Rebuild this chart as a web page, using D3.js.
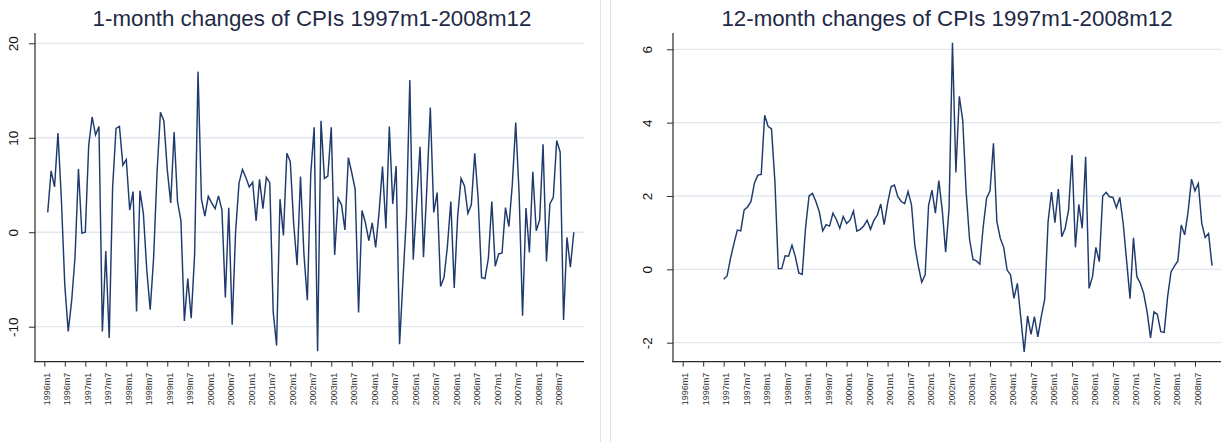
<!DOCTYPE html>
<html>
<head>
<meta charset="utf-8">
<script src="https://cdn.jsdelivr.net/npm/d3@7"></script>
<style>
  html, body { margin: 0; padding: 0; background: #ffffff; }
  svg { display: block; font-family: "Liberation Sans", Arial, sans-serif; }
</style>
</head>
<body>
<svg id="chart" width="1221" height="442"></svg>
<script>
// Monthly CPI changes. Months are counted from 1996m1 (index 0).
const oneMonthStart = 1;    // first observation: 1996m2
const twelveMonthStart = 12; // first observation: 1997m1

// 1-month changes, 1996m2 .. 2008m12
const oneMonthChanges = [
  2.1, 6.5, 4.8, 10.5, 3.5, -5.6, -10.5, -7.3, -2.6, 6.7, -0.1, 0.0,
  9.2, 12.2, 10.3, 11.2, -10.5, -2.0, -11.2, 4.75, 11.0, 11.2, 7.1, 7.7,
  2.35, 4.3, -8.4, 4.4, 2.0, -4.0, -8.2, -2.7, 6.3, 12.7, 11.8, 6.6,
  3.1, 10.6, 3.25, 1.2, -9.4, -4.9, -9.1, -2.4, 17.0, 3.5, 1.7, 3.8,
  3.1, 2.5, 3.85, 2.35, -6.9, 2.6, -9.8, 0.05, 5.2, 6.65, 5.8, 4.8,
  5.3, 1.2, 5.6, 2.5, 5.8, 5.25, -8.4, -12.0, 3.5, -0.35, 8.35, 7.5,
  0.9, -3.5, 5.9, -2.3, -7.2, 6.2, 11.1, -12.6, 11.8, 5.7, 5.95, 11.1,
  -2.4, 3.6, 2.9, 0.25, 7.9, 6.3, 4.55, -8.5, 2.3, 1.0, -0.9, 1.0,
  -1.6, 2.1, 6.95, 0.4, 11.2, 3.0, 7.0, -11.85, -5.0, 1.7, 16.1, -2.9,
  3.25, 9.05, -2.65, 4.8, 13.2, 2.1, 4.2, -5.75, -4.8, -1.5, 3.25, -5.9,
  1.65, 5.7, 4.9, 2.0, 2.9, 8.35, 3.6, -4.8, -4.9, -2.75, 3.25, -3.6,
  -2.3, -2.2, 2.6, 0.6, 5.05, 11.6, 4.05, -8.85, 2.55, -2.15, 6.4, 0.15,
  1.3, 9.3, -3.1, 3.0, 3.7, 9.7, 8.5, -9.3, -0.55, -3.7, 0.0
];

// 12-month changes, 1997m1 .. 2008m12
const twelveMonthChanges = [
  -0.27, -0.18, 0.3, 0.7, 1.07, 1.05, 1.62, 1.7, 1.85, 2.35, 2.57, 2.59,
  4.2, 3.9, 3.83, 2.4, 0.02, 0.02, 0.37, 0.36, 0.66, 0.34, -0.1, -0.14,
  1.16, 2.0, 2.07, 1.85, 1.57, 1.05, 1.22, 1.18, 1.53, 1.36, 1.12, 1.44,
  1.25, 1.34, 1.59, 1.04, 1.09, 1.18, 1.34, 1.09, 1.34, 1.48, 1.78, 1.22,
  1.8, 2.25, 2.3, 1.98, 1.85, 1.79, 2.12, 1.76, 0.63, 0.09, -0.35, -0.15,
  1.74, 2.16, 1.53, 2.42, 1.62, 0.47, 1.66, 6.18, 2.64, 4.72, 4.07, 2.12,
  0.82, 0.27, 0.23, 0.14, 1.16, 1.95, 2.14, 3.44, 1.3, 0.85, 0.6, -0.02,
  -0.15, -0.79, -0.38, -1.31, -2.25, -1.27, -1.77, -1.29, -1.84, -1.29, -0.82, 1.3,
  2.11, 1.27, 2.19, 0.89, 1.12, 1.62, 3.12, 0.6, 1.77, 1.12, 3.07, -0.52,
  -0.2, 0.6, 0.21, 2.0, 2.1, 1.98, 1.96, 1.68, 1.96, 1.25, 0.23, -0.8,
  0.86, -0.2, -0.38, -0.66, -1.16, -1.87, -1.16, -1.23, -1.7, -1.72, -0.75, -0.07,
  0.09, 0.23, 1.21, 0.94, 1.57, 2.46, 2.14, 2.34, 1.25, 0.87, 0.98, 0.1
];

// Time-axis ticks every six months
const xTickMonths = [0, 6, 12, 18, 24, 30, 36, 42, 48, 54, 60, 66, 72,
  78, 84, 90, 96, 102, 108, 114, 120, 126, 132, 138, 144, 150];
const xTickLabels = ["1996m1", "1996m7", "1997m1", "1997m7", "1998m1", "1998m7",
  "1999m1", "1999m7", "2000m1", "2000m7", "2001m1", "2001m7", "2002m1", "2002m7",
  "2003m1", "2003m7", "2004m1", "2004m7", "2005m1", "2005m7", "2006m1", "2006m7",
  "2007m1", "2007m7", "2008m1", "2008m7"];

const leftTitle = "1-month changes of CPIs 1997m1-2008m12";
const rightTitle = "12-month changes of CPIs 1997m1-2008m12";
const leftYTicks = [-10, 0, 10, 20];
const rightYTicks = [-2, 0, 2, 4, 6];

const svg = d3.select("#chart");

const LINE = "#1f3b6d";
const GRID = "#e1e6ef";
const AXIS = "#2b2b2b";

// panel frame edges between the two graphs
svg.append("line").attr("x1", 600.5).attr("x2", 600.5).attr("y1", 0).attr("y2", 442)
  .attr("stroke", "#dde3ee").attr("stroke-width", 1);
svg.append("line").attr("x1", 610.5).attr("x2", 610.5).attr("y1", 0).attr("y2", 442)
  .attr("stroke", "#dde3ee").attr("stroke-width", 1);

function drawPanel(cfg) {
  const g = svg.append("g");
  const x = d3.scaleLinear().domain([0, 155]).range(cfg.xRange);
  const y = d3.scaleLinear().domain(cfg.yDomain).range(cfg.yRange);

  // horizontal grid
  g.append("g").selectAll("line").data(cfg.yTicks).join("line")
    .attr("x1", cfg.left).attr("x2", cfg.right)
    .attr("y1", d => y(d)).attr("y2", d => y(d))
    .attr("stroke", GRID).attr("stroke-width", 1.3);

  // series
  const pts = cfg.values.map((v, i) => [cfg.start + i, v]);
  g.append("path").datum(pts)
    .attr("fill", "none").attr("stroke", LINE).attr("stroke-width", 1.45)
    .attr("stroke-linejoin", "miter")
    .attr("d", d3.line().x(d => x(d[0])).y(d => y(d[1])));

  // y axis (plain hyphen for negative labels)
  const yAxis = g.append("g").attr("transform", `translate(${cfg.left},0)`)
    .call(d3.axisLeft(y).tickValues(cfg.yTicks).tickFormat(d => String(d))
      .tickSize(6).tickSizeOuter(0));
  yAxis.select(".domain").remove();
  yAxis.selectAll(".tick line").attr("stroke", AXIS);
  yAxis.selectAll(".tick text")
    .attr("transform", "rotate(-90)")
    .attr("x", 0).attr("y", cfg.yLabelOffset).attr("dy", 0)
    .attr("text-anchor", "middle")
    .attr("font-size", 13.5).attr("fill", "#111111")
    .attr("font-family", "Liberation Sans, Arial, sans-serif");
  g.append("line").attr("x1", cfg.left).attr("x2", cfg.left)
    .attr("y1", cfg.top).attr("y2", cfg.bottom + 0.5)
    .attr("stroke", AXIS).attr("stroke-width", 1.2);

  // x axis
  const xAxis = g.append("g").attr("transform", `translate(0,${cfg.bottom})`)
    .call(d3.axisBottom(x).tickValues(xTickMonths)
      .tickFormat((d, i) => xTickLabels[i]).tickSize(5).tickSizeOuter(0));
  xAxis.select(".domain").remove();
  xAxis.selectAll(".tick line").attr("stroke", AXIS);
  xAxis.selectAll(".tick text")
    .attr("transform", "rotate(-90)")
    .attr("x", -11).attr("y", 5.2).attr("dy", 0)
    .attr("text-anchor", "end")
    .attr("font-size", 9).attr("fill", "#333333")
    .attr("font-family", "Liberation Sans, Arial, sans-serif");
  g.append("line").attr("x1", cfg.left - 0.6).attr("x2", cfg.right)
    .attr("y1", cfg.bottom).attr("y2", cfg.bottom)
    .attr("stroke", AXIS).attr("stroke-width", 1.2);

  // title
  g.append("text").attr("x", cfg.titleX).attr("y", 26)
    .attr("text-anchor", "middle").attr("font-size", 22.3)
    .attr("fill", "#1f2a46").text(cfg.title);
}

drawPanel({
  title: leftTitle, titleX: 312,
  values: oneMonthChanges, start: oneMonthStart,
  left: 35, right: 584, top: 33, bottom: 361.7,
  xRange: [44.3, 573.8],
  yDomain: [-10, 20], yRange: [326.7, 43.3], yTicks: leftYTicks,
  yLabelOffset: -16.7
});

drawPanel({
  title: rightTitle, titleX: 947,
  values: twelveMonthChanges, start: twelveMonthStart,
  left: 673, right: 1221, top: 33, bottom: 361.7,
  xRange: [682.7, 1212.0],
  yDomain: [-2, 6], yRange: [342.7, 49.3], yTicks: rightYTicks,
  yLabelOffset: -21.5
});
</script>
</body>
</html>
